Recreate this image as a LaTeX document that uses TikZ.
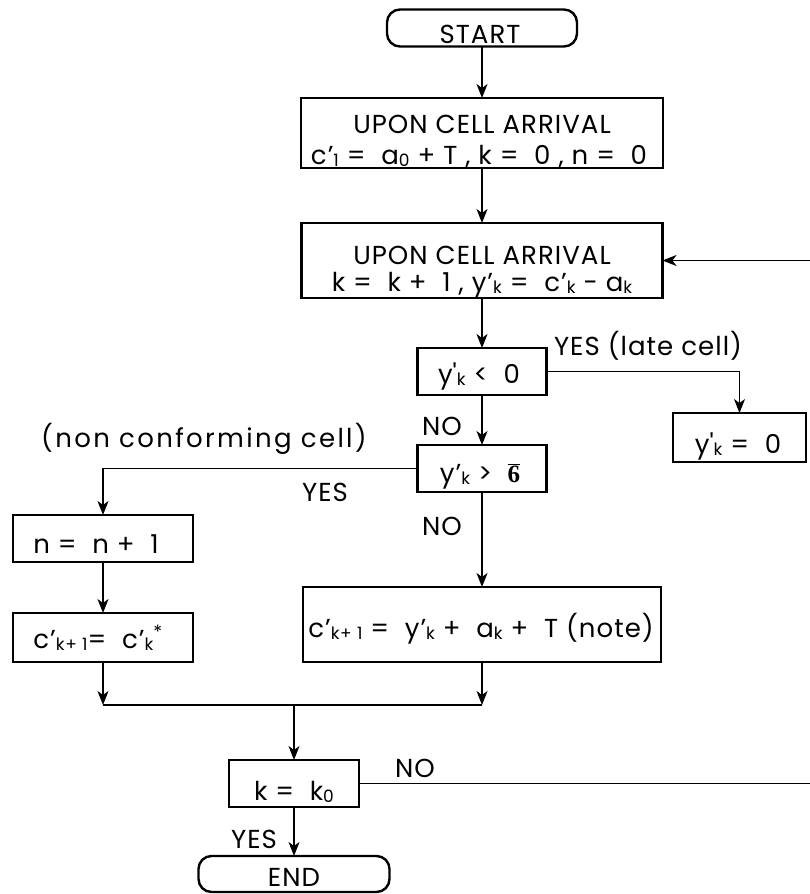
\documentclass[tikz,border=0pt]{standalone}
\usepackage{fontspec}
\setmainfont{Poppins}[LetterSpace=4]
\newfontfamily\symfont{Liberation Serif}
\usetikzlibrary{arrows.meta}
% small lowered index
\newcommand\sub[1]{\raisebox{-0.1em}{\fontsize{17}{17}\selectfont #1}}
% tolerance symbol with bar
\newcommand\tolbar{$\overline{\hbox{\symfont\bfseries\fontsize{25}{25}\selectfont 6}}$}
\newcommand\yp{y\textquotesingle}
% wide space after relation and plus signs
\newcommand\gap{\hspace{0.6em}}
\begin{document}
\begin{tikzpicture}[x=1pt,y=-1pt,
  every node/.style={inner sep=0pt, outer sep=0pt},
  txt/.style={anchor=base, font=\fontsize{26}{30}\selectfont},
  stepbox/.style={draw, line width=2.8pt},
  terminal/.style={draw, line width=2.4pt, rounded corners=13pt},
  link/.style={line width=1.3pt},
  flow/.style={link, -{Stealth[length=14pt,width=11pt,inset=4pt]}}]
\useasboundingbox (0,0) rectangle (810,894);

% ---- boxes ----
\node[terminal, minimum width=190pt, minimum height=37pt] (start) at (482,28) {};
\node[stepbox, minimum width=362pt, minimum height=70pt] (b1) at (482,133) {};
\node[stepbox, minimum width=361pt, minimum height=75pt] (b2) at (482,260.5) {};
\node[stepbox, minimum width=129pt, minimum height=47pt] (d1) at (482,371.5) {};
\node[stepbox, minimum width=133pt, minimum height=49pt] (z0) at (739.5,437.5) {};
\node[stepbox, minimum width=129pt, minimum height=47pt] (d2) at (482,468.5) {};
\node[stepbox, minimum width=180pt, minimum height=47pt] (n1) at (103,538.5) {};
\node[stepbox, minimum width=180pt, minimum height=49pt] (c1) at (103,637.5) {};
\node[stepbox, minimum width=358pt, minimum height=75pt] (c2) at (482,624.5) {};
\node[stepbox, minimum width=130pt, minimum height=47pt] (d3) at (294,783.5) {};
\node[terminal, minimum width=191pt, minimum height=36pt] (stop) at (294,874) {};

% ---- texts ----
\node[txt] (tstart) at (480,43) {START};
\node[txt] (tb1a) at (482,133) {UPON CELL ARRIVAL};
\node[txt] (tb1b) at (479,164) {c’\sub{1} =\gap a\sub{0} + T , k =\gap 0 , n =\gap 0};
\node[txt] (tb2a) at (482,264) {UPON CELL ARRIVAL};
\node[txt] (tb2b) at (482,291) {k =\gap k +\gap 1 , y’\sub{k} =\gap c’\sub{k} - a\sub{k}};
\node[txt] (td1) at (479,383) {\yp\sub{k} <\gap 0};
\node[txt] (tz0) at (738,453) {\yp\sub{k} =\gap 0};
\node[txt] (td2) at (480,482) {y’\sub{k} >\gap\tolbar};
\node[txt] (tn1) at (96,553) {n =\gap n +\gap 1};
\node[txt] (tc1) at (98,648) {c’\sub{k+ 1}=\gap c’\sub{k}\textsuperscript{*}};
\node[txt] (tc2) at (481,637) {c’\sub{k+ 1} =\gap y’\sub{k} +\gap a\sub{k} +\gap T (note)};
\node[txt] (td3) at (294,800) {k =\gap k\sub{0}};
\node[txt] (tstop) at (294,886) {END};

% ---- branch labels ----
\node[txt] (lyes1) at (648,355) {YES (late cell)};
\node[txt] (lno1) at (442,435) {NO};
\node[txt] (lnc) at (204,447) {\addfontfeatures{LetterSpace=9}(non conforming cell)};
\node[txt] (lyes2) at (325,501) {YES};
\node[txt] (lno2) at (442,535) {NO};
\node[txt] (lno3) at (415,777) {NO};
\node[txt] (lyes3) at (254,848) {YES};

% ---- connectors ----
\coordinate (m) at (294,705);
\coordinate (r) at (812,0);
\draw[flow] (start) -- (b1);
\draw[flow] (b1) -- (b2);
\draw[flow] (b2) -- (d1);
\draw[flow] (d1.east) -| (z0.north);
\draw[flow] (d1) -- (d2);
\draw[flow] (d2.west) -| (n1.north);
\draw[flow] (n1) -- (c1);
\draw[flow] (d2) -- (c2);
\draw[flow] (c1.south) -- (c1.south |- m);
\draw[flow] (c2.south) -- (c2.south |- m);
\draw[link] (c1.south |- m) -- (c2.south |- m);
\draw[flow] (m) -- (d3);
\draw[flow] (d3.east) -- (d3.east -| r) -- (r |- b2.east) -- (b2.east);
\draw[flow] (d3) -- (stop);
\end{tikzpicture}
\end{document}
